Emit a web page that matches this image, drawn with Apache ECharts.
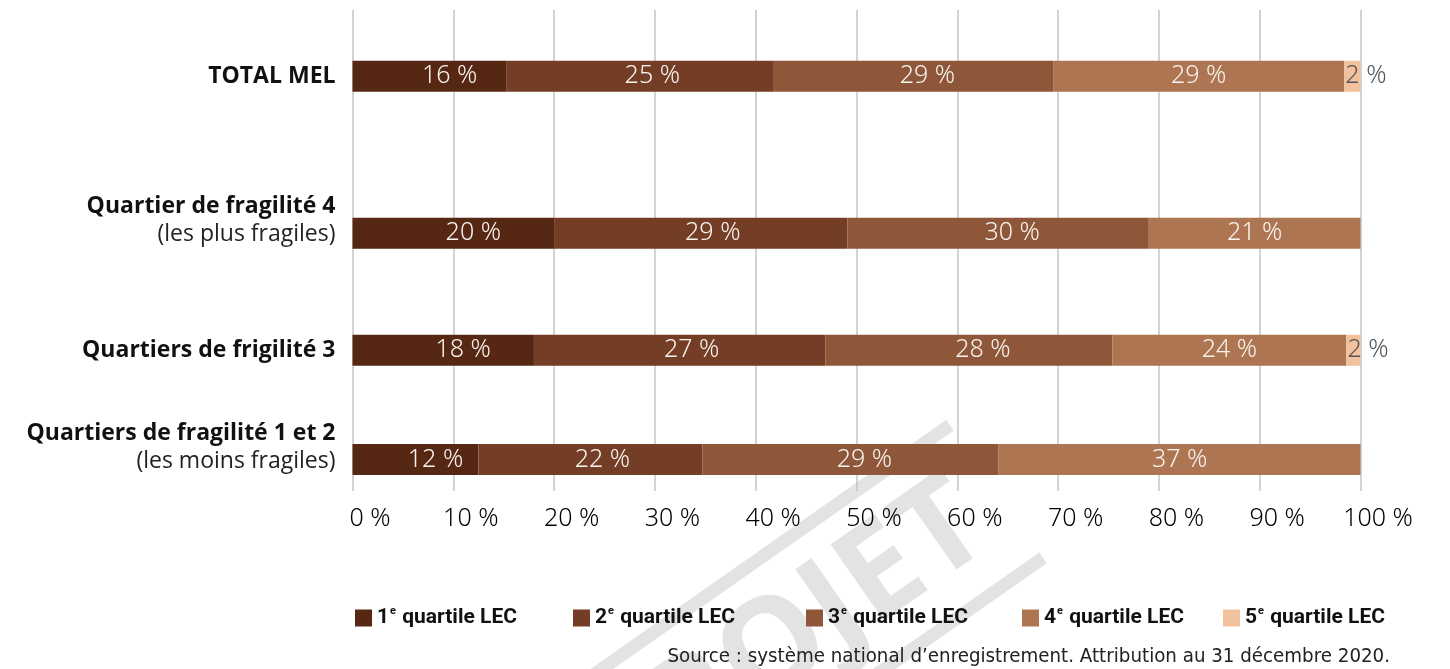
<!DOCTYPE html>
<html>
<head>
<meta charset="utf-8">
<script src="https://cdn.jsdelivr.net/npm/echarts@6/dist/echarts.min.js"></script>
<style>
  html, body { margin: 0; padding: 0; background: #ffffff; }
  #chart { width: 1450px; height: 669px; }
</style>
</head>
<body>
<div id="chart"></div>
<script>
// ---------- DATA ----------
const rowTitles    = ['TOTAL MEL', 'Quartier de fragilité 4', 'Quartiers de frigilité 3', 'Quartiers de fragilité 1 et 2'];
const rowSubtitles = ['', '(les plus fragiles)', '', '(les moins fragiles)'];
const seriesNames  = ['1e quartile LEC', '2e quartile LEC', '3e quartile LEC', '4e quartile LEC', '5e quartile LEC'];

// bar lengths (share of the row, in %)
const q1Share = [15.3, 20.0, 18.0, 12.5];
const q2Share = [26.5, 29.1, 28.9, 22.2];
const q3Share = [27.7, 29.9, 28.5, 29.4];
const q4Share = [28.9, 21.0, 23.2, 35.9];
const q5Share = [1.6, 0, 1.4, 0];

// printed percentages
const q1Label = [16, 20, 18, 12];
const q2Label = [25, 29, 27, 22];
const q3Label = [29, 30, 28, 29];
const q4Label = [29, 21, 24, 37];
const q5Label = [2, null, 2, null];

const xTickValues = [0, 10, 20, 30, 40, 50, 60, 70, 80, 90, 100];
const sourceText = 'Source : système national d’enregistrement. Attribution au 31 décembre 2020.';

// ---------- LAYOUT / STYLE ----------
const shares = [q1Share, q2Share, q3Share, q4Share, q5Share];
const printed = [q1Label, q2Label, q3Label, q4Label, q5Label];
const colors = ['#562814', '#733e25', '#8f5739', '#ae7552', '#f2c19d'];
const labelNudge = [20, 12, 14, 0, 0];
const barCenters = [76.3, 233.3, 350.3, 459.5];
const barH = 31;
const plotLeft = 352.5, plotRight = 89.5;
const legendLeft = [355, 573, 806, 1022, 1223];
const numFont = '"Noto Sans", "DejaVu Sans", sans-serif';
const catFont = '"Open Sans", "Lato", sans-serif';
const legFont = 'Roboto, "Noto Sans", sans-serif';
const condFont = '"DejaVu Sans Condensed", Roboto, sans-serif';

const grids = [{ left: plotLeft, right: plotRight, top: 10, bottom: 178, containLabel: false }];
const xAxes = [{
  gridIndex: 0, type: 'value', min: 0, max: 100, interval: 10,
  axisLine: { show: false }, axisTick: { show: false },
  splitLine: { show: true, lineStyle: { color: '#c4c4c4', width: 1.5 } },
  axisLabel: {
    margin: 15, padding: [0, 0, 0, 35], color: '#000000', fontFamily: numFont, fontSize: 25, fontWeight: 300,
    formatter: v => (xTickValues.indexOf(v) >= 0 ? v + ' %' : '')
  }
}];
const yAxes = [{ gridIndex: 0, type: 'value', show: false }];
const series = [];

rowTitles.forEach((title, r) => {
  const gi = r + 1;
  grids.push({ left: plotLeft, right: plotRight, top: barCenters[r] - barH / 2, height: barH, containLabel: false });
  xAxes.push({ gridIndex: gi, type: 'value', min: 0, max: 100, show: false });
  const sub = rowSubtitles[r];
  yAxes.push({
    gridIndex: gi, type: 'category', data: [title],
    axisLine: { show: false }, axisTick: { show: false }, splitLine: { show: false },
    axisLabel: {
      margin: 17,
      padding: sub ? [0, 0, 25, 0] : [0, 0, 0, 0],
      formatter: () => sub ? '{b|' + title + '}\n{r|' + sub + '}' : '{b|' + title + '}',
      rich: {
        b: { fontFamily: catFont, fontWeight: 'bold', fontSize: 23, color: '#111', lineHeight: 28, align: 'right' },
        r: { fontFamily: catFont, fontWeight: 'normal', fontSize: 23, color: '#222', lineHeight: 28, align: 'right' }
      }
    }
  });
  seriesNames.forEach((name, k) => {
    const isSmall = k === 4;
    series.push({
      type: 'bar', name: name, xAxisIndex: gi, yAxisIndex: gi, stack: 'row' + r,
      barWidth: '100%', itemStyle: { color: colors[k] },
      emphasis: { disabled: true },
      data: [shares[k][r]],
      label: {
        show: printed[k][r] !== null,
        position: isSmall ? 'insideLeft' : 'inside',
        distance: 1,
        offset: [isSmall ? 0 : labelNudge[k], 0],
        color: isSmall ? '#555555' : '#f8f3ee',
        fontFamily: numFont, fontSize: 25, fontWeight: 300,
        formatter: () => printed[k][r] === null ? '' : printed[k][r] + ' %'
      }
    });
  });
});

const legends = seriesNames.map((name, k) => ({
  data: [name], left: legendLeft[k], top: 606, padding: 0, orient: 'horizontal',
  icon: 'rect', itemWidth: 17, itemHeight: 17, selectedMode: false,
  formatter: n => '{n|' + n.charAt(0) + '}{s|' + n.charAt(1) + '}{t|' + n.slice(2) + '}',
  textStyle: {
    rich: {
      n: { fontFamily: legFont, fontWeight: 'bold', fontSize: 21, color: '#111', lineHeight: 24 },
      s: { fontFamily: legFont, fontWeight: 'bold', fontSize: 11, color: '#111', lineHeight: 24, verticalAlign: 'top', padding: [0, 1, 0, 1] },
      t: { fontFamily: legFont, fontWeight: 'bold', fontSize: 21, color: '#111', lineHeight: 24 }
    }
  }
}));

const option = {
  animation: false,
  backgroundColor: '#ffffff',
  grid: grids, xAxis: xAxes, yAxis: yAxes, series: series, legend: legends,
  graphic: [
    {
      type: 'group', x: 996.5, y: 491.5, rotation: 35 * Math.PI / 180, z: -10, silent: true,
      children: [
        { type: 'rect', z: -10, shape: { x: -1000, y: -87.5, width: 1000, height: 13 }, style: { fill: '#e3e3e3' } },
        { type: 'rect', z: -10, shape: { x: -1000, y: 74.5, width: 1000, height: 13 }, style: { fill: '#e3e3e3' } },
        { type: 'text', z: -10, x: -30, y: 4, style: { text: 'PROJET', font: 'bold 130px "Open Sans", sans-serif', fill: '#e3e3e3', align: 'right', verticalAlign: 'middle' } }
      ]
    },
    {
      type: 'text', right: 60, top: 647, z: 10,
      style: { text: sourceText, font: '20.3px ' + condFont, fill: '#222' }
    }
  ]
};

const chart = echarts.init(document.getElementById('chart'), null, { renderer: 'canvas' });
chart.setOption(option);
</script>
</body>
</html>
